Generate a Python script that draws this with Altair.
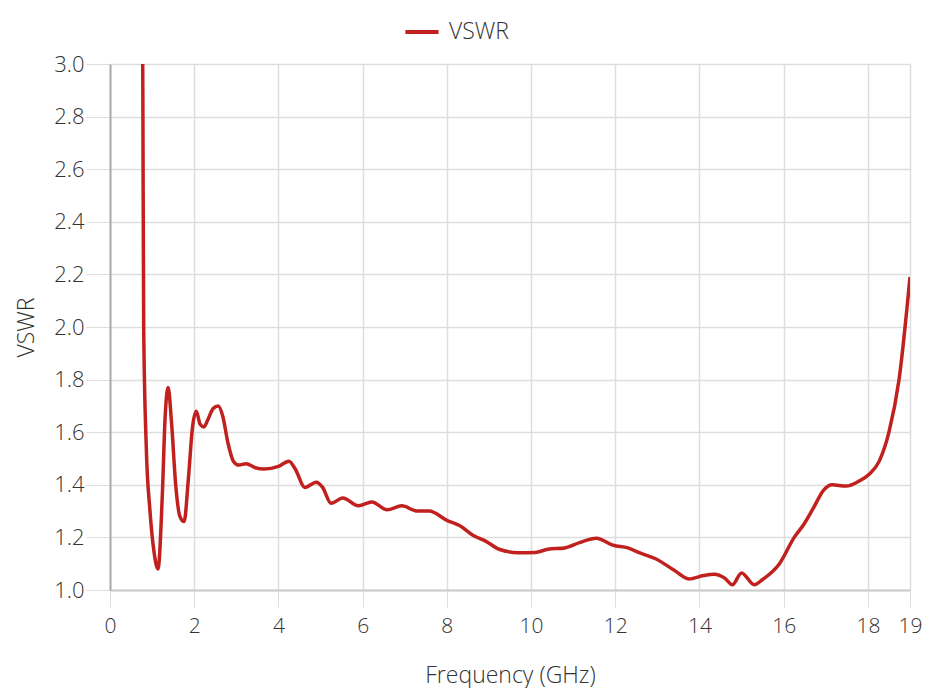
import altair as alt
import pandas as pd

freq = [0.76, 0.78, 0.80, 0.86, 0.95, 1.05, 1.14, 1.24, 1.31, 1.38, 1.46, 1.56, 1.66, 1.76, 1.86, 1.96, 2.05, 2.14,
        2.23, 2.33, 2.45, 2.57, 2.68, 2.80, 2.93, 3.06, 3.23, 3.45, 3.66, 4.0, 4.25, 4.40, 4.63, 4.9, 5.05, 5.25,
        5.53, 5.9, 6.22, 6.58, 6.93, 7.3, 7.58, 8.0, 8.3, 8.65, 8.93, 9.24, 9.7, 10.1, 10.4, 10.8, 11.15,
        11.55, 11.95, 12.3, 12.6, 12.97, 13.4, 13.75, 14.1, 14.35, 14.6, 14.78, 15.0, 15.3, 15.5, 15.9,
        16.25, 16.48, 16.7, 16.95, 17.15, 17.48, 17.8, 18.03, 18.27, 18.5, 18.74, 19.0]
vswr = [3.6, 2.9, 2.0, 1.55, 1.3, 1.14, 1.08, 1.35, 1.66, 1.77, 1.64, 1.40, 1.28, 1.26, 1.42, 1.62, 1.68, 1.63,
        1.62, 1.65, 1.69, 1.70, 1.66, 1.56, 1.49, 1.475, 1.48, 1.465, 1.46, 1.47, 1.49, 1.46, 1.39, 1.41, 1.39, 1.33,
        1.35, 1.32, 1.335, 1.305, 1.32, 1.30, 1.30, 1.265, 1.245, 1.205, 1.185, 1.155, 1.142, 1.143, 1.155, 1.16, 1.18,
        1.197, 1.17, 1.16, 1.14, 1.118, 1.075, 1.042, 1.055, 1.06, 1.045, 1.02, 1.065, 1.02, 1.04, 1.1,
        1.2, 1.25, 1.31, 1.38, 1.40, 1.395, 1.415, 1.44, 1.49, 1.6, 1.8, 2.19]

x_ticks = [0, 2, 4, 6, 8, 10, 12, 14, 16, 18, 19]
y_ticks = [1.0, 1.2, 1.4, 1.6, 1.8, 2.0, 2.2, 2.4, 2.6, 2.8, 3.0]

df = pd.DataFrame({"Frequency": freq, "VSWR": vswr, "series": ["VSWR"] * len(freq)})

FONT = "Open Sans"
TXT = "#333333"

chart = alt.Chart(df).mark_line(
    strokeWidth=3.5, interpolate="monotone", clip=True
).encode(
    x=alt.X("Frequency:Q", scale=alt.Scale(domain=[0, 19], nice=False, zero=False),
            axis=alt.Axis(values=x_ticks, title="Frequency (GHz)", format="d",
                          labelFontSize=21, titleFontSize=23, labelFont=FONT, titleFont=FONT,
                          labelColor=TXT, titleColor=TXT, labelFontWeight=300, titleFontWeight=300,
                          tickSize=17, tickColor="#dddddd", domainColor="#cccccc", domainWidth=2,
                          gridColor="#dddddd", gridWidth=1.5, labelPadding=8, titlePadding=28,
                          labelFlush=False)),
    y=alt.Y("VSWR:Q", scale=alt.Scale(domain=[1.0, 3.0], nice=False, zero=False),
            axis=alt.Axis(values=y_ticks, title="VSWR", format=".1f",
                          labelFontSize=22, titleFontSize=23, labelFont=FONT, titleFont=FONT,
                          labelColor=TXT, titleColor=TXT, labelFontWeight=300, titleFontWeight=300,
                          tickSize=24, tickColor="#dddddd", domainColor="#aaaaaa", domainWidth=2,
                          gridColor="#dddddd", gridWidth=1.5, labelPadding=2, titlePadding=15)),
    color=alt.Color("series:N", scale=alt.Scale(range=["#c0211f"]),
                    legend=alt.Legend(title=None, orient="none", legendX=293, legendY=-51,
                                      symbolType="stroke", symbolSize=1100, symbolStrokeWidth=4,
                                      labelFontSize=23, labelFont=FONT, labelFontWeight=300,
                                      labelColor=TXT, labelOffset=8)),
).properties(
    width=800, height=526,
    autosize=alt.AutoSizeParams(type="none"),
    padding={"left": 102, "top": 56, "right": 12, "bottom": 98},
).configure_view(stroke=None)

chart.save("out.html", embed_options={"renderer": "svg", "actions": False})
